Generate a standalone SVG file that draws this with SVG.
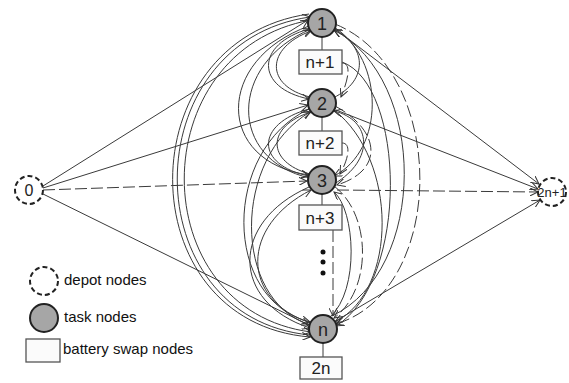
<svg xmlns="http://www.w3.org/2000/svg" width="569" height="383" viewBox="0 0 569 383">
<defs>
<marker id="ah" markerWidth="9" markerHeight="8" refX="8" refY="4" orient="auto" markerUnits="userSpaceOnUse">
<path d="M0,0 L8,4 L0,8" fill="none" stroke="#333" stroke-width="1"/>
</marker>
<style>
.e{fill:none;stroke:#3a3a3a;stroke-width:1;marker-end:url(#ah)}
.d{stroke-dasharray:12,4}
.l{fill:none;stroke:#3a3a3a;stroke-width:1}
.task{fill:#a6a6a6;stroke:#222;stroke-width:2}
.depot{fill:#fff;stroke:#222;stroke-width:2;stroke-dasharray:5,3}
.box{fill:#fbfbfb;stroke:#555;stroke-width:1.3}
.t{font-family:"Liberation Sans",Arial,sans-serif;fill:#222;text-anchor:middle}
.lg{font-family:"Liberation Sans",Arial,sans-serif;fill:#111;font-size:15px}
</style>
</defs>
<rect width="569" height="383" fill="#fff"/>
<g id="connectors">
<line class="l" x1="322" y1="37" x2="322" y2="50"/>
<line class="l" x1="322" y1="117" x2="322" y2="131"/>
<line class="l" x1="322" y1="194" x2="322" y2="205"/>
<line class="l" x1="323" y1="343" x2="323" y2="357"/>
<path class="e d" d="M342,63 C352,63 348,80 341,97"/>
<path class="e d" d="M342,143 C352,143 348,160 340,174"/>
<path class="e d" d="M333,230 L333,316"/>
<path class="e" d="M43,186 L308,20"/>
<path class="e" d="M43,188 L308,105"/>
<path class="e d" d="M43,190 L307,181"/>
<path class="e" d="M43,194 L309,325"/>
<path class="e" d="M334,28 L539,184"/>
<path class="e" d="M336,110 L538,189"/>
<path class="e d" d="M337,190 L538,192"/>
<path class="e" d="M334,322 L540,200"/>
<path class="e" d="M309,14 C127,40 127,322 310,337"/>
<path class="e" d="M310,335 C133,318 133,42 310,17"/>
<path class="e" d="M311,20 C142,50 142,310 311,332"/>
<path class="e" d="M309,26 C215,60 215,162 309,175"/>
<path class="e" d="M310,178 C228,160 228,64 311,29"/>
<path class="e" d="M309,109 C222,150 222,300 310,322"/>
<path class="e" d="M310,325 C232,300 232,158 310,112"/>
<path class="e" d="M309,187 C230,222 230,302 310,328"/>
<path class="e" d="M311,323 C240,300 240,226 311,190"/>
<path class="e" d="M309,29 C255,44 255,88 309,99"/>
<path class="e" d="M310,97 C265,86 265,48 311,31"/>
<path class="e" d="M309,109 C255,124 255,165 309,176"/>
<path class="e" d="M310,174 C266,162 266,126 311,112"/>
<path class="e" d="M334,27 C385,60 385,150 334,176"/>
<path class="e d" d="M335,24 C448,70 448,290 336,324"/>
<path class="e" d="M332,316 C428,270 428,80 334,30"/>
<path class="e" d="M334,110 C398,160 398,290 335,322"/>
<path class="e" d="M342,62 C405,85 410,280 336,326"/>
<path class="e d" d="M335,106 C380,130 385,170 337,185"/>
<path class="e d" d="M334,186 C372,215 372,290 334,318"/>
<path class="e" d="M330,317 C360,290 355,210 334,192"/>
<path class="e" d="M334,184 C375,160 372,120 334,111"/>
<path class="e" d="M333,98 C370,80 366,45 334,30"/>
</g>
<g id="n0"><circle class="depot" cx="29" cy="190" r="14"/><text class="t" x="29" y="196" font-size="16">0</text></g>
<g id="n2n1"><circle class="depot" cx="552" cy="192" r="14"/><text class="t" x="552" y="197" font-size="13">2n+1</text></g>
<g id="n1"><circle class="task" cx="322" cy="23" r="14"/><text class="t" x="322" y="29.5" font-size="18">1</text></g>
<g id="n2"><circle class="task" cx="322" cy="103" r="14"/><text class="t" x="322" y="109.5" font-size="18">2</text></g>
<g id="n3"><circle class="task" cx="322" cy="180" r="14"/><text class="t" x="322" y="186.5" font-size="18">3</text></g>
<g id="nn"><circle class="task" cx="323" cy="329" r="14"/><text class="t" x="323" y="335.5" font-size="18">n</text></g>
<g id="s1"><rect class="box" x="299" y="50" width="43" height="24"/><text class="t" x="320" y="68" font-size="17">n+1</text></g>
<g id="s2"><rect class="box" x="299" y="131" width="43" height="24"/><text class="t" x="320" y="149" font-size="17">n+2</text></g>
<g id="s3"><rect class="box" x="299" y="205" width="43" height="25"/><text class="t" x="320" y="224" font-size="17">n+3</text></g>
<g id="s2n"><rect class="box" x="300" y="357" width="42" height="22"/><text class="t" x="321" y="374" font-size="17">2n</text></g>
<g id="dots"><circle cx="323" cy="252" r="2.5" fill="#111"/><circle cx="323" cy="262" r="2.5" fill="#111"/><circle cx="323" cy="273" r="2.5" fill="#111"/></g>
<g id="legend">
<circle class="depot" cx="44" cy="281" r="14"/>
<text class="lg" x="64" y="285">depot nodes</text>
<circle class="task" cx="44" cy="318" r="14"/>
<text class="lg" x="64" y="322">task nodes</text>
<rect class="box" x="26" y="339" width="34" height="23"/>
<text class="lg" x="63" y="354">battery swap nodes</text>
</g>
</svg>
